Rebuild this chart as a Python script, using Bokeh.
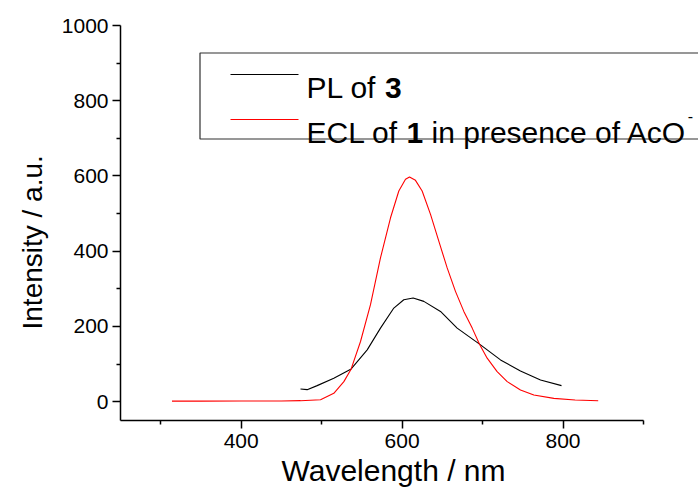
from bokeh.plotting import figure
from bokeh.models import Range1d, Label, BoxAnnotation, FixedTicker, Title
from bokeh.embed import file_html
from bokeh.resources import INLINE

# ---- data ----
pl_wavelength = [473.7, 482.0, 494.4, 515.1, 536.7, 556.6, 573.1, 589.7, 602.1, 613.7,
                 627.0, 647.7, 668.4, 696.2, 722.3, 747.1, 772.0, 798.1]
pl_intensity = [33.8, 32.0, 42.7, 62.2, 87.1, 137.8, 195.6, 248.9, 271.1, 275.6,
                266.7, 240.0, 195.6, 152.9, 111.1, 81.8, 57.8, 42.7]

ecl_wavelength = [314.0, 350.0, 400.0, 450.0, 473.7, 498.6, 515.1, 527.6, 536.7, 548.3,
                  560.7, 573.1, 585.6, 595.9, 604.2, 609.2, 616.6, 624.9, 635.3, 645.6,
                  656.0, 666.3, 676.7, 687.1, 696.2, 705.7, 718.1, 730.6, 747.1, 763.7,
                  788.6, 815.0, 843.7]
ecl_intensity = [1.5, 1.5, 1.8, 2.0, 2.7, 5.3, 22.2, 53.3, 87.1, 160.0,
                 257.8, 382.2, 488.9, 560.0, 591.1, 597.3, 588.4, 560.0, 497.8, 426.7,
                 355.6, 293.3, 240.0, 195.6, 152.9, 115.6, 80.0, 53.3, 31.1, 17.8,
                 8.9, 4.5, 2.7]

x_major_ticks = [400, 600, 800]
x_minor_ticks = [300, 500, 700, 900]
y_major_ticks = [0, 200, 400, 600, 800, 1000]
y_minor_ticks = [100, 300, 500, 700, 900]
x_title = "Wavelength / nm"
y_title = "Intensity / a.u."

FONT = "Liberation Sans"
AX0, AX1 = 250, 900          # drawn extent of the x axis
Y0, Y1 = -50, 1000

# frame geometry on the page (px); frame extends to right edge so legend is not clipped
W_PAGE, H_PAGE = 698, 488
FL, FT, FH = 120, 25, 395
AXW = 523                    # pixel length of the drawn x axis (250..900)
FW = W_PAGE - FL
X1 = AX0 + FW * (AX1 - AX0) / AXW

p = figure(width=W_PAGE, height=H_PAGE, output_backend="svg", toolbar_location=None,
           x_range=Range1d(AX0, X1), y_range=Range1d(Y0, Y1),
           min_border_left=FL, min_border_top=FT, min_border_right=0,
           min_border_bottom=H_PAGE - FT - FH)
p.outline_line_color = None
p.grid.visible = False
p.background_fill_color = "white"
p.border_fill_color = "white"

p.line(pl_wavelength, pl_intensity, line_color="black", line_width=1.1)
p.line(ecl_wavelength, ecl_intensity, line_color="#ff0000", line_width=1.1)

for ax in (p.xaxis[0], p.yaxis[0]):
    ax.axis_line_color = "black"
    ax.axis_line_width = 1.5
    ax.major_tick_line_color = "black"
    ax.minor_tick_line_color = "black"
    ax.major_tick_line_width = 1.5
    ax.minor_tick_line_width = 1.5
    ax.major_tick_out = 8
    ax.major_tick_in = 0
    ax.minor_tick_out = 4
    ax.minor_tick_in = 0
    ax.major_label_text_font = FONT
    ax.major_label_text_font_size = "21px"
    ax.major_label_text_color = "black"

p.xaxis.bounds = (AX0, AX1)
p.xaxis.ticker = FixedTicker(ticks=x_major_ticks, minor_ticks=x_minor_ticks)
p.yaxis.ticker = FixedTicker(ticks=y_major_ticks, minor_ticks=y_minor_ticks)
p.xaxis.major_label_standoff = 5
p.yaxis.major_label_standoff = 4

p.add_layout(Title(text=x_title, align="left", offset=161, standoff=2,
                   text_font=FONT, text_font_size="30px", text_font_style="normal",
                   text_color="black"), "below")
p.add_layout(Title(text=y_title, align="left", offset=91, standoff=22,
                   text_font=FONT, text_font_size="28px", text_font_style="normal",
                   text_color="black"), "left")


def dx(px):
    return AX0 + (px - FL) * (AX1 - AX0) / AXW


def dy(py):
    return Y1 - (py - FT) * (Y1 - Y0) / FH


# ---- legend (drawn by hand to allow bold numerals) ----
p.add_layout(BoxAnnotation(left=dx(199.5), right=dx(760), top=dy(52.5), bottom=dy(138.5),
                           fill_alpha=0, line_color="#303030", line_alpha=1.0,
                           line_width=1.2))
p.segment(x0=[dx(230), dx(230)], y0=[dy(74), dy(119)], x1=[dx(298), dx(298)],
          y1=[dy(74), dy(119)], line_color=["black", "#ff0000"], line_width=1)

CW = {"P": 667, "L": 556, " ": 278, "o": 556, "f": 278, "E": 667, "C": 722, "i": 222,
      "n": 556, "p": 556, "r": 333, "e": 556, "s": 500, "c": 500, "A": 667, "O": 778,
      "1": 556, "3": 556}
FS = 30


def tw(s):
    return sum(CW[c] for c in s) * FS / 1000.0


def lab(txt, xp, yp, style="normal", fs=FS):
    p.add_layout(Label(x=dx(xp), y=dy(yp), text=txt, text_font=FONT,
                       text_font_size=f"{fs}px", text_font_style=style,
                       text_color="black", text_baseline="alphabetic", text_align="left"))


tx = 306
lab("PL of", tx, 87)
lab("3", tx + tw("PL of "), 87, "bold")
lab("ECL of", tx, 132)
lab("1", tx + tw("ECL of "), 132, "bold")
lab("in presence of AcO", tx + tw("ECL of 1 "), 132)
lab("-", tx + tw("ECL of 1 in presence of AcO") + 1, 115, fs=16)

open("out.html", "w").write(file_html(p, INLINE))
